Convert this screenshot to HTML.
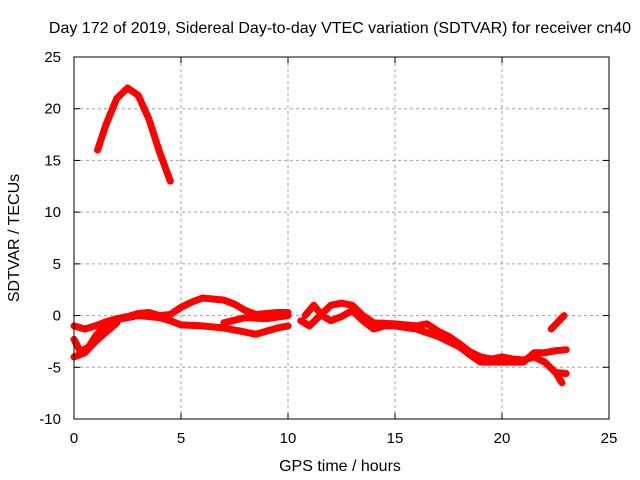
<!DOCTYPE html>
<html><head><meta charset="utf-8"><style>
body{margin:0;background:#fff}
svg{display:block;font-family:"Liberation Sans",sans-serif}
</style></head><body>
<svg width="640" height="480">
<rect x="0" y="0" width="640" height="480" fill="#fff"/>
<text x="340" y="33" font-size="16" text-anchor="middle">Day 172 of 2019, Sidereal Day-to-day VTEC variation (SDTVAR) for receiver cn40</text>
<g id="grid"></g><g id="series"></g>
<rect x="74" y="57" width="535" height="362" fill="none" stroke="#000" stroke-width="1"/>
<g id="axes"></g>
<text x="340" y="471" font-size="16" text-anchor="middle">GPS time / hours</text>
<text x="19" y="238" font-size="16" text-anchor="middle" transform="rotate(-90 19 238)">SDTVAR / TECUs</text>
</svg>
<script>
const xTicks=[0,5,10,15,20,25];
const yTicks=[-10,-5,0,5,10,15,20,25];
const arcX=[1.1,1.5,2,2.5,3,3.5,4,4.5];
const arcY=[16,18.5,21,22,21.3,19,15.8,13];
const upX=[0,0.5,1,1.5,2,2.5,3,3.5,4,4.5,5,5.5,6,6.5,7,7.5,8,8.5,9,9.5,10];
const upY=[-1,-1.3,-1,-0.6,-0.3,-0.1,0.2,0.3,0,0.1,0.8,1.3,1.7,1.6,1.5,1.1,0.5,0.1,0.2,0.3,0.3];
const lowX=[0,0.3,0.7,1,1.5,2,3,4,4.5,5,6,7,8,8.5,9,9.5,10];
const lowY=[-2.3,-3.5,-3,-2,-0.8,-0.4,0,-0.2,-0.5,-0.9,-1,-1.2,-1.6,-1.8,-1.5,-1.2,-1];
const l3X=[0,0.5,1,1.5,2];
const l3Y=[-4,-3.6,-2.5,-1.6,-0.7];
const midX=[7,8,9,10];
const midY=[-0.7,-0.2,-0.3,0];
const bX=[10.6,11,11.5,12,12.5,13,13.5,14,15,16,16.5,17,17.5,18,18.5,19,19.5,20,20.5,21,21.5,22,22.5,22.8];
const bY=[-0.5,-1,0,1,1.2,1,0,-0.7,-0.8,-1,-0.8,-1.5,-2,-2.7,-3.5,-4,-4.2,-4,-4.2,-4.3,-4,-4.5,-5.5,-6.5];
const cX=[10.8,11.2,11.6,12,12.5,13,13.5,14,14.5,15,16,17,17.5,18,18.5,19,20,21,21.5,22,22.5,23];
const cY=[0,1,0,-0.5,-0.1,0.5,-0.5,-1.3,-1,-1,-1.3,-2,-2.5,-3,-3.8,-4.5,-4.5,-4.5,-3.6,-3.6,-3.4,-3.3];
const p1X=[22.3,22.9];const p1Y=[-1.3,0];
const p2X=[22.5,23];const p2Y=[-5.5,-5.6];
const sx=h=>74+h*21.4, sy=v=>57+(25-v)*362/35;
const NS="http://www.w3.org/2000/svg";
const grid=document.getElementById('grid'),axes=document.getElementById('axes'),ser=document.getElementById('series');
function mk(t,a,p){const e=document.createElementNS(NS,t);for(const k in a)e.setAttribute(k,a[k]);p.appendChild(e);return e;}
xTicks.forEach(t=>{const x=sx(t);
 if(t>0&&t<25){const g=mk('line',{x1:x,y1:57,x2:x,y2:419,stroke:'#a0a0a0','stroke-dasharray':'3,3'},grid);
 
 }
 mk('line',{x1:x,y1:419,x2:x,y2:413,stroke:'#000'},axes);mk('line',{x1:x,y1:57,x2:x,y2:63,stroke:'#000'},axes);
 const l=mk('text',{x:x,y:443,'font-size':15,'text-anchor':'middle'},axes);l.textContent=t;
 
 });
yTicks.forEach(t=>{const y=sy(t);
 if(t>-10&&t<25){const g=mk('line',{x1:74,y1:y,x2:609,y2:y,stroke:'#a0a0a0','stroke-dasharray':'3,3'},grid);
 
 }
 mk('line',{x1:74,y1:y,x2:80,y2:y,stroke:'#000'},axes);mk('line',{x1:609,y1:y,x2:603,y2:y,stroke:'#000'},axes);
 const l=mk('text',{x:61,y:y+5,'font-size':15,'text-anchor':'end'},axes);l.textContent=t;
 
 });
[[arcX,arcY],[upX,upY],[lowX,lowY],[l3X,l3Y],[midX,midY],[bX,bY],[cX,cY],[p1X,p1Y],[p2X,p2Y]].forEach(([X,Y])=>{
 const pts=X.map((x,i)=>sx(x)+','+sy(Y[i])).join(' ');
 const p=mk('polyline',{points:pts,fill:'none',stroke:'#ff0000','stroke-width':7,'stroke-linejoin':'round','stroke-linecap':'round'},ser);
 
 });
</script>
</body></html>
